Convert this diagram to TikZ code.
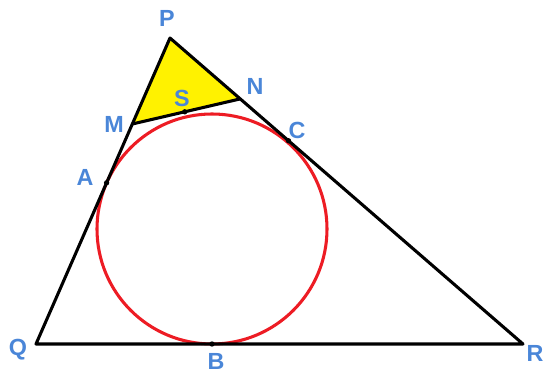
\documentclass[tikz,border=0pt]{standalone}
\usepackage{fontspec}
\setmainfont{Liberation Sans}
\usetikzlibrary{positioning,calc}
\definecolor{paintred}{HTML}{ED1C24}
\definecolor{paintyellow}{HTML}{FFF200}
\definecolor{labelblue}{HTML}{4A86D8}

\begin{document}
\begin{tikzpicture}[
    x=0.75pt, y=-0.75pt,
    every node/.style={font=\fontsize{17.5}{20}\selectfont\bfseries, text=labelblue, inner sep=0pt},
    side/.style={line width=2.3pt, black, line join=round},
    incircle/.style={line width=2.3pt, paintred},
    touch/.style={circle, fill=black, inner sep=0pt, minimum size=4pt},
]
\useasboundingbox (0,0) rectangle (544,374);

% Vertices
\coordinate (P) at (170,38);
\coordinate (Q) at (36,344);
\coordinate (R) at (523,344);
\coordinate (M) at ($(P)!0.281!(Q)$);
\coordinate (N) at ($(P)!0.199!(R)$);
\coordinate (O) at (212,229);

% Touch points (feet from the centre)
\coordinate (A) at ($(P)!(O)!(Q)$);
\coordinate (B) at ($(Q)!(O)!(R)$);
\coordinate (C) at ($(P)!(O)!(R)$);
\coordinate (S) at ($(M)!(O)!(N)$);

% Small triangle
\fill[paintyellow] (P) -- (M) -- (N) -- cycle;

% Incircle
\draw[incircle] (O) circle (115);

% Sides
\draw[side] (P) -- (Q) -- (R) -- cycle;
\draw[side] (M) -- (N);

\foreach \p in {A,B,C,S} {
    \node[touch] (dot\p) at (\p) {};
}

% Labels
\node (labP) at (167,18) {P};
\node (labQ) at (18,350) {Q};
\node (labR) at (535,353) {R};
\node (labM) at (114,124) {M};
\node (labN) at (255,86) {N};
\node (labS) at (182,98) {S};
\node (labA) at (85,177) {A};
\node (labC) at (297,130) {C};
\node (labB) at (216,361) {B};

\end{tikzpicture}
\end{document}
